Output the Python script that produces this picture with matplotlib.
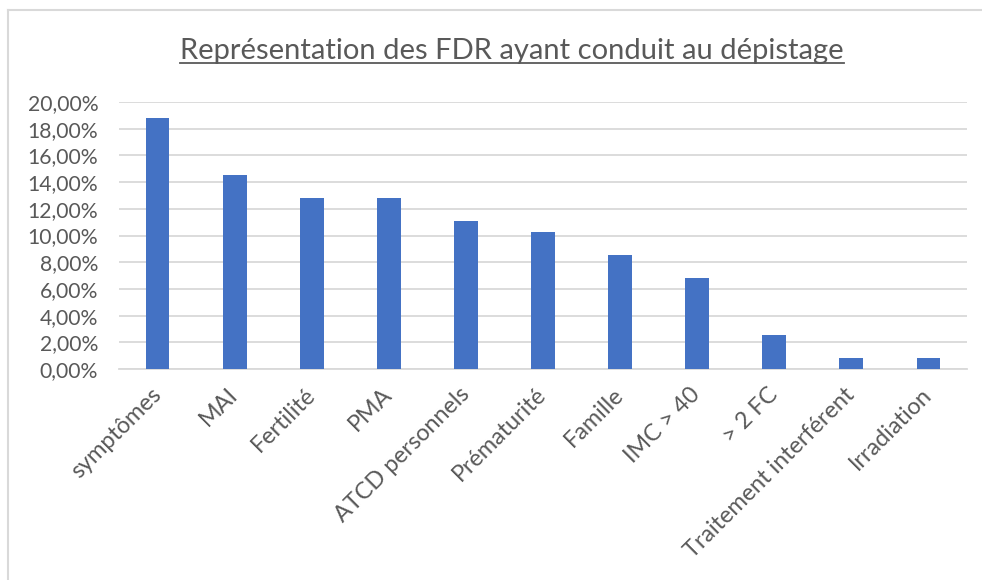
import matplotlib.pyplot as plt
from matplotlib.lines import Line2D
from matplotlib.ticker import FuncFormatter

# Data (share of screenings by risk factor)
categories = ["symptômes", "MAI", "Fertilité", "PMA", "ATCD personnels",
              "Prématurité", "Famille", "IMC > 40", "> 2 FC",
              "Traitement interférent", "Irradiation"]
values = [0.188, 0.1453, 0.1282, 0.1282, 0.1111, 0.1026, 0.0855, 0.0684,
          0.0256, 0.0085, 0.0085]
yticks = [i * 0.02 for i in range(11)]

title = "Représentation des FDR ayant conduit au dépistage"

text_color = "#595959"
grid_color = "#d9d9d9"
bar_color = "#4472c4"

plt.rcParams['font.family'] = ['Lato', 'DejaVu Sans']

fig = plt.figure(figsize=(9.82, 5.80), dpi=100)
ax = fig.add_axes([119 / 982, 1 - 369 / 580, (967 - 119) / 982, (369 - 102) / 580])

x = list(range(len(categories)))
ax.bar(x, values, width=0.31, color=bar_color, zorder=3)

ax.set_xlim(-0.5, len(categories) - 0.5)
ax.set_ylim(0, 0.20)
ax.set_yticks(yticks)
ax.yaxis.set_major_formatter(FuncFormatter(lambda v, p: f"{v * 100:.2f}%".replace(".", ",")))
ax.grid(axis='y', color=grid_color, linewidth=1.3, zorder=0)

ax.set_xticks(x)
ax.set_xticklabels(categories, rotation=45, ha='right', va='center', rotation_mode='anchor')
ax.tick_params(axis='y', length=0, labelsize=15.2, colors=text_color, pad=15)
ax.tick_params(axis='x', length=0, labelsize=16.8, colors=text_color, pad=16)

for s in ['top', 'right', 'left']:
    ax.spines[s].set_visible(False)
ax.spines['bottom'].set_color(grid_color)
ax.spines['bottom'].set_linewidth(1.3)

# title with underline
t = fig.text(512 / 982, 1 - 51 / 580, title, ha='center', va='center',
             fontsize=21, color=text_color)
fig.canvas.draw()
bb = t.get_window_extent().transformed(fig.transFigure.inverted())
fig.add_artist(Line2D([bb.x0, bb.x1], [bb.y0 + 0.002, bb.y0 + 0.002],
                      transform=fig.transFigure, color=text_color, linewidth=1.3))

# chart frame (top and left edges visible)
fig.add_artist(Line2D([8 / 982, 1], [1 - 10 / 580, 1 - 10 / 580],
                      transform=fig.transFigure, color=grid_color, linewidth=1.5))
fig.add_artist(Line2D([8 / 982, 8 / 982], [0, 1 - 10 / 580],
                      transform=fig.transFigure, color=grid_color, linewidth=1.5))

fig.savefig("out.png", dpi=100)
